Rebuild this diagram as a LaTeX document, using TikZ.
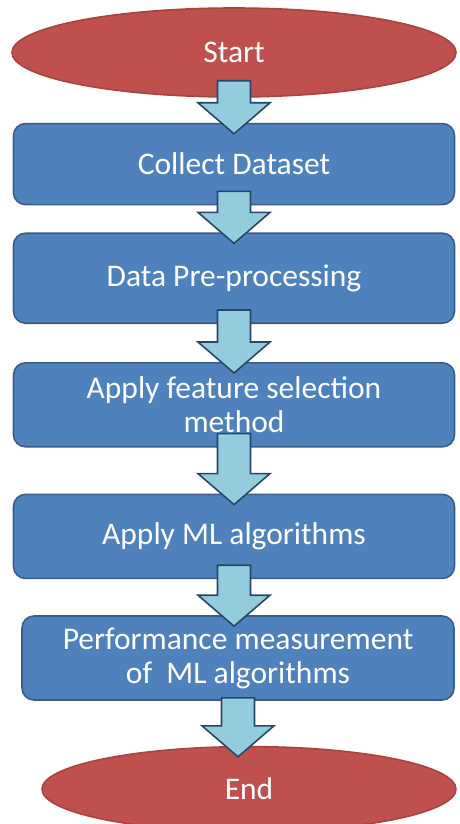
\documentclass[tikz,border=0pt]{standalone}
\usepackage{fontspec}
\setmainfont{Carlito}
\usetikzlibrary{positioning}
\usetikzlibrary{shapes.geometric}
\usetikzlibrary{calc}
\definecolor{stepfill}{RGB}{79,129,189}
\definecolor{stepline}{RGB}{56,93,138}
\definecolor{termfill}{RGB}{192,80,77}
\definecolor{termline}{RGB}{170,66,63}
\definecolor{flowfill}{RGB}{147,205,221}
\definecolor{flowline}{RGB}{40,70,105}
\tikzset {
  flow node/.style = {
    text = white,
    line width = 1.6pt,
    align = center,
    font = \fontsize{31.5}{34}\selectfont
  },
  % start and end of the flow
  term/.style = {
    flow node,
    ellipse,
    draw = termline,
    fill = termfill
  },
  % processing step
  stepbox/.style = {
    flow node,
    rectangle,
    rounded corners = 12pt,
    draw = stepline,
    fill = stepfill,
    minimum width = 441pt,
    minimum height = 84pt
  }
}
\tikzset {
  % block arrow from the bottom of one node into the top of the next,
  % the argument is how far the shaft reaches back into the upper node
  flow/.style = {
    draw = flowline,
    fill = flowfill,
    line width = 1.6pt,
    line join = miter,
    to path = {
      let \p1 = (\tikztostart), \p2 = (\tikztotarget) in
      (\x1-16.5pt,\y1+#1) -- (\x1-16.5pt,\y2+20pt) -- (\x1-36pt,\y2+20pt)
      -- (\x1,\y2-11pt) -- (\x1+36pt,\y2+20pt) -- (\x1+16.5pt,\y2+20pt)
      -- (\x1+16.5pt,\y1+#1) -- cycle
    }
  },
  flow/.default = 14pt
}
\begin{document}
\begin{tikzpicture}
    \useasboundingbox (0,0) rectangle (460pt,-824pt);

    \node[term, minimum width = 444pt, minimum height = 89pt] (start) at (234pt,-52.5pt) {Start};
    \node[stepbox] (collect) [below=25pt of start, minimum height = 81pt] {Collect Dataset};
    \node[stepbox] (prep) [below=27pt of collect, minimum height = 90pt] {Data Pre-processing};
    \node[stepbox] (feat) [below=38pt of prep] {Apply feature selection\\method};
    \node[stepbox] (mlalg) [below=46pt of feat] {Apply ML algorithms};
    \node[stepbox] (perf) [below=36pt of mlalg, xshift=4pt, minimum width = 432pt] {Performance measurement\\of~ ML algorithms};
    \node[term, minimum width = 414pt, minimum height = 85pt] (finish) [below=45pt of perf, xshift=11pt] {End};

    \draw[flow=17pt] (start.south) to (collect.north);
    \draw[flow] (collect.south) to (prep.north);
    \draw[flow] (prep.south) to (feat.north);
    \draw[flow] (feat.south) to (mlalg.north);
    \draw[flow] (mlalg.south) to (perf.north);
    \draw[flow=3pt] (perf.south) to (finish.north -| perf.south);
\end{tikzpicture}
\end{document}
